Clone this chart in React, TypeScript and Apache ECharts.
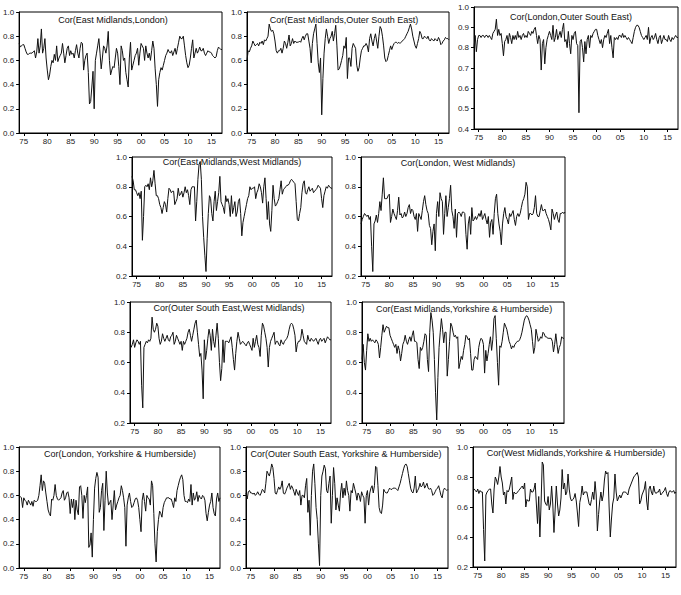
import React, { useEffect, useRef } from "react";
import * as echarts from "echarts";

// Quarterly categories 1974Q1 .. 2017Q2
const START_YEAR = 1974;
const N_QUARTERS = 174;
const quarters: string[] = Array.from({ length: N_QUARTERS }, (_, i) => `${START_YEAR + Math.floor(i / 4)}Q${(i % 4) + 1}`);
const tickYears = ["1975", "1980", "1985", "1990", "1995", "2000", "2005", "2010", "2015"];
const tickLabels = ["75", "80", "85", "90", "95", "00", "05", "10", "15"];

const titles = [
  "Cor(East Midlands,London)",
  "Cor(East Midlands,Outer South East)",
  "Cor(London,Outer South East)",
  "Cor(East Midlands,West Midlands)",
  "Cor(London, West Midlands)",
  "Cor(Outer South East,West Midlands)",
  "Cor(East Midlands,Yorkshire & Humberside)",
  "Cor(London, Yorkshire & Humberside)",
  "Cor(Outer South East, Yorkshire & Humberside)",
  "Cor(West Midlands,Yorkshire & Humberside)",
];

const corEmLon = [
  0.74,0.71,0.72,0.73, 0.73,0.70,0.67,0.65, 0.65,0.66,0.66,0.66, 0.67,0.68,0.62,0.67,
  0.78,0.66,0.72,0.86, 0.66,0.70,0.78,0.62, 0.52,0.44,0.48,0.55, 0.60,0.58,0.65,0.60,
  0.72,0.59,0.62,0.64, 0.66,0.74,0.66,0.58, 0.64,0.70,0.72,0.64, 0.68,0.65,0.66,0.62,
  0.68,0.73,0.66,0.62, 0.70,0.75,0.74,0.52, 0.60,0.64,0.66,0.50, 0.24,0.26,0.38,0.51,
  0.20,0.60,0.66,0.72, 0.78,0.66,0.53,0.62, 0.72,0.70,0.66,0.72, 0.84,0.60,0.48,0.52,
  0.55,0.54,0.62,0.70, 0.66,0.55,0.40,0.72, 0.68,0.60,0.62,0.50, 0.44,0.38,0.62,0.75,
  0.52,0.56,0.60,0.64, 0.66,0.70,0.56,0.66, 0.74,0.72,0.70,0.60, 0.72,0.66,0.62,0.66,
  0.60,0.68,0.76,0.70, 0.53,0.40,0.22,0.44, 0.50,0.54,0.52,0.56, 0.60,0.64,0.66,0.69,
  0.67,0.66,0.68,0.64, 0.67,0.70,0.65,0.70, 0.75,0.80,0.78,0.78, 0.80,0.72,0.64,0.58,
  0.54,0.56,0.62,0.70, 0.77,0.62,0.66,0.70, 0.66,0.68,0.71,0.68, 0.68,0.70,0.66,0.64,
  0.66,0.68,0.67,0.67, 0.66,0.64,0.63,0.62, 0.63,0.68,0.71,0.70, 0.69,0.69,
];

const corEmOse = [
  0.60,0.68,0.67,0.70, 0.72,0.76,0.74,0.72, 0.73,0.74,0.72,0.75, 0.74,0.76,0.73,0.77,
  0.76,0.78,0.80,0.90, 0.86,0.84,0.85,0.82, 0.76,0.68,0.66,0.68, 0.68,0.70,0.66,0.70,
  0.76,0.74,0.70,0.75, 0.81,0.72,0.74,0.78, 0.74,0.76,0.75,0.75, 0.75,0.76,0.75,0.78,
  0.80,0.77,0.80,0.82, 0.82,0.76,0.70,0.58, 0.74,0.82,0.86,0.90, 0.74,0.58,0.50,0.62,
  0.15,0.45,0.66,0.78, 0.86,0.80,0.74,0.78, 0.80,0.84,0.76,0.82, 0.89,0.72,0.52,0.53,
  0.56,0.60,0.64,0.72, 0.70,0.79,0.45,0.62, 0.62,0.55,0.70,0.74, 0.72,0.70,0.56,0.51,
  0.54,0.62,0.68,0.70, 0.72,0.72,0.74,0.72, 0.67,0.78,0.82,0.76, 0.72,0.78,0.82,0.76,
  0.70,0.80,0.88,0.86, 0.80,0.72,0.62,0.59, 0.60,0.64,0.68,0.72, 0.69,0.72,0.74,0.75,
  0.75,0.74,0.75,0.74, 0.75,0.76,0.77,0.78, 0.80,0.82,0.84,0.87, 0.90,0.86,0.80,0.76,
  0.72,0.70,0.74,0.78, 0.84,0.82,0.78,0.78, 0.80,0.79,0.78,0.80, 0.77,0.76,0.78,0.77,
  0.76,0.78,0.77,0.76, 0.79,0.77,0.73,0.74, 0.76,0.77,0.79,0.78, 0.78,0.77,
];

const corLonOse = [
  0.80,0.86,0.78,0.84, 0.86,0.86,0.85,0.86, 0.86,0.85,0.86,0.86, 0.85,0.86,0.85,0.84,
  0.87,0.88,0.89,0.94, 0.86,0.89,0.86,0.87, 0.82,0.76,0.83,0.84, 0.86,0.82,0.87,0.85,
  0.82,0.86,0.84,0.86, 0.84,0.88,0.85,0.86, 0.84,0.86,0.87,0.85, 0.86,0.85,0.88,0.87,
  0.86,0.88,0.87,0.89, 0.90,0.86,0.82,0.86, 0.84,0.69,0.82,0.84, 0.72,0.80,0.84,0.86,
  0.88,0.86,0.84,0.91, 0.83,0.85,0.89,0.84, 0.86,0.88,0.85,0.89, 0.92,0.83,0.84,0.80,
  0.88,0.82,0.77,0.86, 0.84,0.87,0.88,0.82, 0.81,0.48,0.83,0.84, 0.80,0.73,0.83,0.77,
  0.84,0.86,0.80,0.86, 0.85,0.87,0.88,0.89, 0.89,0.86,0.84,0.82, 0.84,0.80,0.84,0.86,
  0.85,0.87,0.89,0.82, 0.86,0.80,0.75,0.85, 0.84,0.85,0.84,0.86, 0.86,0.85,0.87,0.85,
  0.86,0.85,0.84,0.85, 0.84,0.83,0.82,0.85, 0.88,0.90,0.91,0.91, 0.90,0.88,0.86,0.85,
  0.84,0.85,0.86,0.84, 0.90,0.82,0.85,0.86, 0.84,0.85,0.87,0.84, 0.82,0.85,0.86,0.82,
  0.84,0.86,0.84,0.84, 0.83,0.86,0.84,0.83, 0.85,0.84,0.85,0.86, 0.85,0.85,
];

const corEmWm = [
  0.87,0.84,0.78,0.78, 0.76,0.74,0.76,0.72, 0.77,0.44,0.60,0.80, 0.81,0.80,0.82,0.78,
  0.86,0.80,0.84,0.91, 0.82,0.74,0.74,0.72, 0.68,0.66,0.62,0.66, 0.70,0.68,0.63,0.72,
  0.79,0.78,0.76,0.77, 0.77,0.68,0.70,0.72, 0.79,0.74,0.75,0.77, 0.73,0.76,0.80,0.76,
  0.78,0.74,0.68,0.78, 0.80,0.80,0.80,0.57, 0.70,0.85,0.95,0.97, 0.85,0.60,0.46,0.34,
  0.23,0.45,0.62,0.74, 0.72,0.62,0.57,0.70, 0.77,0.64,0.70,0.76, 0.87,0.70,0.68,0.66,
  0.62,0.74,0.70,0.72, 0.68,0.60,0.74,0.62, 0.66,0.70,0.60,0.63, 0.70,0.72,0.62,0.47,
  0.56,0.60,0.64,0.68, 0.72,0.74,0.80,0.78, 0.79,0.79,0.80,0.72, 0.76,0.78,0.82,0.80,
  0.76,0.69,0.80,0.86, 0.72,0.58,0.70,0.55, 0.50,0.64,0.81,0.72, 0.67,0.68,0.70,0.72,
  0.78,0.84,0.75,0.78, 0.79,0.80,0.81,0.81, 0.82,0.84,0.85,0.84, 0.83,0.82,0.70,0.58,
  0.57,0.62,0.66,0.76, 0.82,0.84,0.76,0.75, 0.78,0.80,0.77,0.78, 0.79,0.76,0.77,0.78,
  0.79,0.81,0.80,0.79, 0.72,0.66,0.74,0.77, 0.80,0.79,0.81,0.80, 0.79,0.79,
];

const corLonWm = [
  0.55,0.58,0.60,0.62, 0.61,0.60,0.61,0.58, 0.60,0.40,0.23,0.55, 0.57,0.61,0.56,0.62,
  0.70,0.64,0.75,0.86, 0.72,0.72,0.72,0.74, 0.75,0.56,0.60,0.65, 0.62,0.60,0.58,0.64,
  0.73,0.61,0.62,0.59, 0.60,0.63,0.60,0.62, 0.66,0.68,0.62,0.65, 0.64,0.60,0.58,0.62,
  0.50,0.62,0.60,0.58, 0.64,0.70,0.74,0.68, 0.64,0.62,0.54,0.52, 0.41,0.50,0.55,0.37,
  0.62,0.70,0.60,0.76, 0.72,0.70,0.48,0.62, 0.74,0.60,0.66,0.72, 0.81,0.64,0.60,0.52,
  0.65,0.46,0.62,0.63, 0.62,0.60,0.63,0.63, 0.62,0.48,0.38,0.55, 0.60,0.48,0.66,0.57,
  0.58,0.60,0.58,0.60, 0.62,0.60,0.64,0.58, 0.60,0.62,0.58,0.55, 0.60,0.46,0.56,0.58,
  0.48,0.62,0.72,0.75, 0.62,0.55,0.50,0.41, 0.55,0.62,0.66,0.60, 0.58,0.55,0.62,0.60,
  0.62,0.64,0.58,0.54, 0.60,0.62,0.60,0.62, 0.66,0.70,0.72,0.75, 0.83,0.80,0.58,0.62,
  0.62,0.61,0.62,0.66, 0.74,0.62,0.60,0.60, 0.64,0.68,0.64,0.64, 0.65,0.62,0.60,0.58,
  0.55,0.51,0.65,0.62, 0.58,0.61,0.63,0.58, 0.56,0.62,0.62,0.63, 0.62,0.63,
];

const corOseWm = [
  0.70,0.70,0.72,0.75, 0.70,0.73,0.75,0.74, 0.72,0.74,0.45,0.30, 0.70,0.72,0.74,0.73,
  0.75,0.74,0.76,0.90, 0.82,0.80,0.82,0.86, 0.84,0.76,0.72,0.74, 0.79,0.76,0.74,0.76,
  0.78,0.75,0.74,0.77, 0.78,0.80,0.72,0.74, 0.78,0.76,0.74,0.72, 0.74,0.68,0.74,0.72,
  0.74,0.76,0.80,0.82, 0.78,0.74,0.78,0.82, 0.86,0.88,0.80,0.72, 0.64,0.66,0.55,0.36,
  0.75,0.62,0.68,0.76, 0.82,0.78,0.68,0.82, 0.74,0.70,0.78,0.86, 0.76,0.60,0.48,0.56,
  0.75,0.60,0.74,0.74, 0.74,0.73,0.75,0.77, 0.70,0.62,0.55,0.66, 0.74,0.80,0.76,0.72,
  0.73,0.74,0.73,0.72, 0.71,0.73,0.74,0.72, 0.70,0.68,0.76,0.70, 0.74,0.78,0.72,0.70,
  0.64,0.78,0.86,0.84, 0.80,0.76,0.70,0.57, 0.70,0.74,0.76,0.78, 0.80,0.72,0.74,0.74,
  0.72,0.71,0.75,0.73, 0.72,0.74,0.75,0.76, 0.78,0.82,0.85,0.86, 0.85,0.82,0.78,0.67,
  0.72,0.74,0.74,0.76, 0.82,0.78,0.74,0.73, 0.72,0.78,0.75,0.74, 0.76,0.75,0.74,0.75,
  0.76,0.74,0.72,0.75, 0.76,0.74,0.75,0.76, 0.73,0.75,0.77,0.76, 0.75,0.75,
];

const corEmYh = [
  0.62,0.72,0.60,0.55, 0.68,0.79,0.74,0.76, 0.74,0.75,0.74,0.73, 0.75,0.74,0.72,0.63,
  0.70,0.78,0.85,0.80, 0.82,0.84,0.83,0.83, 0.78,0.76,0.74,0.72, 0.70,0.72,0.66,0.71,
  0.68,0.61,0.66,0.72, 0.74,0.78,0.74,0.72, 0.75,0.77,0.74,0.78, 0.81,0.74,0.74,0.73,
  0.62,0.56,0.70,0.68, 0.70,0.74,0.79,0.78, 0.62,0.54,0.80,0.93, 0.88,0.80,0.62,0.40,
  0.22,0.50,0.70,0.80, 0.89,0.82,0.73,0.80, 0.80,0.51,0.62,0.74, 0.86,0.84,0.80,0.77,
  0.78,0.76,0.77,0.56, 0.60,0.64,0.62,0.68, 0.72,0.78,0.77,0.75, 0.76,0.66,0.55,0.55,
  0.62,0.64,0.63,0.62, 0.70,0.74,0.76,0.75, 0.72,0.53,0.68,0.61, 0.66,0.72,0.77,0.68,
  0.75,0.89,0.91,0.76, 0.60,0.45,0.71,0.70, 0.74,0.80,0.86,0.84, 0.82,0.78,0.74,0.72,
  0.69,0.71,0.70,0.72, 0.73,0.74,0.74,0.75, 0.77,0.80,0.84,0.88, 0.90,0.91,0.90,0.88,
  0.85,0.82,0.74,0.66, 0.70,0.82,0.78,0.74, 0.75,0.77,0.76,0.80, 0.79,0.77,0.77,0.76,
  0.76,0.76,0.76,0.74, 0.67,0.72,0.79,0.72, 0.66,0.70,0.72,0.77, 0.76,0.76,
];

const corLonYh = [
  0.60,0.59,0.58,0.50, 0.58,0.56,0.55,0.52, 0.56,0.54,0.52,0.55, 0.51,0.56,0.55,0.55,
  0.56,0.60,0.68,0.77, 0.64,0.72,0.70,0.62, 0.55,0.48,0.45,0.43, 0.57,0.56,0.60,0.69,
  0.60,0.57,0.56,0.57, 0.58,0.62,0.64,0.56, 0.58,0.62,0.63,0.58, 0.45,0.57,0.50,0.57,
  0.40,0.56,0.48,0.44, 0.67,0.68,0.60,0.41, 0.60,0.54,0.60,0.67, 0.17,0.19,0.29,0.09,
  0.40,0.66,0.74,0.79, 0.75,0.46,0.50,0.64, 0.70,0.31,0.56,0.80, 0.62,0.52,0.54,0.56,
  0.40,0.52,0.64,0.48, 0.52,0.55,0.58,0.60, 0.68,0.64,0.58,0.50, 0.18,0.52,0.58,0.62,
  0.55,0.50,0.51,0.54, 0.57,0.58,0.56,0.50, 0.40,0.30,0.56,0.62, 0.55,0.47,0.60,0.58,
  0.57,0.52,0.72,0.68, 0.45,0.20,0.05,0.30, 0.40,0.47,0.45,0.42, 0.50,0.54,0.56,0.58,
  0.58,0.58,0.57,0.57, 0.54,0.50,0.58,0.55, 0.64,0.68,0.72,0.75, 0.77,0.73,0.60,0.55,
  0.55,0.54,0.57,0.55, 0.69,0.52,0.62,0.56, 0.58,0.63,0.55,0.60, 0.58,0.57,0.60,0.59,
  0.56,0.45,0.39,0.46, 0.52,0.55,0.62,0.50, 0.45,0.43,0.57,0.62, 0.55,0.58,
];

const corOseYh = [
  0.62,0.57,0.63,0.64, 0.62,0.62,0.61,0.62, 0.60,0.61,0.63,0.61, 0.60,0.62,0.65,0.64,
  0.62,0.70,0.80,0.78, 0.76,0.80,0.86,0.83, 0.74,0.62,0.61,0.64, 0.67,0.65,0.67,0.72,
  0.62,0.61,0.63,0.66, 0.68,0.70,0.65,0.68, 0.66,0.63,0.60,0.65, 0.62,0.60,0.64,0.52,
  0.60,0.60,0.58,0.68, 0.74,0.46,0.56,0.27, 0.60,0.80,0.86,0.70, 0.50,0.40,0.20,0.02,
  0.60,0.76,0.80,0.85, 0.82,0.64,0.62,0.70, 0.76,0.37,0.60,0.83, 0.70,0.48,0.58,0.52,
  0.47,0.62,0.70,0.58, 0.66,0.60,0.72,0.64, 0.60,0.47,0.64,0.62, 0.70,0.66,0.62,0.56,
  0.62,0.60,0.55,0.63, 0.60,0.58,0.37,0.60, 0.64,0.52,0.62,0.66, 0.68,0.62,0.68,0.84,
  0.83,0.68,0.50,0.46, 0.45,0.52,0.65,0.63, 0.62,0.62,0.64,0.66, 0.65,0.65,0.66,0.66,
  0.66,0.65,0.64,0.67, 0.70,0.74,0.78,0.82, 0.85,0.86,0.84,0.78, 0.72,0.66,0.63,0.62,
  0.66,0.76,0.62,0.64, 0.66,0.70,0.67,0.68, 0.71,0.66,0.68,0.70, 0.66,0.65,0.66,0.64,
  0.60,0.61,0.63,0.65, 0.66,0.68,0.64,0.60, 0.58,0.64,0.66,0.65, 0.64,0.65,
];

const corWmYh = [
  0.72,0.72,0.71,0.70, 0.72,0.69,0.71,0.70, 0.70,0.45,0.24,0.68, 0.70,0.71,0.72,0.72,
  0.62,0.56,0.72,0.80, 0.78,0.75,0.80,0.87, 0.80,0.76,0.68,0.70, 0.62,0.71,0.70,0.72,
  0.76,0.80,0.65,0.70, 0.69,0.69,0.70,0.71, 0.72,0.73,0.74,0.72, 0.76,0.60,0.65,0.64,
  0.64,0.72,0.70,0.70, 0.72,0.76,0.62,0.49, 0.67,0.40,0.62,0.90, 0.88,0.64,0.62,0.61,
  0.67,0.58,0.62,0.74, 0.62,0.43,0.58,0.74, 0.62,0.54,0.58,0.66, 0.85,0.72,0.76,0.68,
  0.70,0.82,0.72,0.66, 0.64,0.65,0.66,0.69, 0.64,0.56,0.47,0.63, 0.67,0.74,0.68,0.70,
  0.70,0.70,0.66,0.62, 0.61,0.65,0.70,0.65, 0.77,0.68,0.44,0.55, 0.64,0.70,0.64,0.68,
  0.78,0.84,0.82,0.83, 0.60,0.40,0.52,0.62, 0.66,0.82,0.70,0.64, 0.66,0.68,0.66,0.68,
  0.70,0.70,0.70,0.69, 0.68,0.72,0.74,0.76, 0.78,0.80,0.81,0.82, 0.83,0.80,0.62,0.64,
  0.68,0.70,0.72,0.77, 0.64,0.58,0.72,0.74, 0.70,0.68,0.74,0.70, 0.69,0.70,0.70,0.72,
  0.68,0.69,0.70,0.71, 0.73,0.69,0.67,0.70, 0.71,0.70,0.70,0.71, 0.69,0.70,
];

const seriesData = [corEmLon, corEmOse, corLonOse, corEmWm, corLonWm, corOseWm, corEmYh, corLonYh, corOseYh, corWmYh];

// y-axis ranges per panel: [min, max, interval]
const yRanges = [
  [0, 1, 0.2], [0, 1, 0.2], [0.4, 1, 0.1],
  [0.2, 1, 0.2], [0.2, 1, 0.2],
  [0.2, 1, 0.2], [0.2, 1, 0.2],
  [0, 1, 0.2], [0, 1, 0.2], [0.2, 1, 0.2],
];

// Layout (pixels): left, top, width, height, title center x, title center y
const layout = [
  { l: 19, t: 12, w: 203, h: 121, tx: 113, ty: 20 },
  { l: 247, t: 12, w: 202, h: 121, tx: 344, ty: 20 },
  { l: 474, t: 7, w: 204, h: 122, tx: 571, ty: 17 },
  { l: 132, t: 157, w: 200, h: 119, tx: 232, ty: 162 },
  { l: 361, t: 157, w: 204, h: 119, tx: 458, ty: 163 },
  { l: 130, t: 302, w: 201, h: 121, tx: 229, ty: 308 },
  { l: 362, t: 302, w: 202, h: 121, tx: 464, ty: 309 },
  { l: 19, t: 447, w: 201, h: 121, tx: 120, ty: 454 },
  { l: 246, t: 447, w: 202, h: 121, tx: 346, ty: 454 },
  { l: 473, t: 447, w: 203, h: 120, tx: 576, ty: 453 },
];

const FONT = "'Liberation Sans', Arial, Helvetica, sans-serif";

const isTick = (index: number) => index >= 4 && (index - 4) % 20 === 0;

export default function App() {
  const ref = useRef<HTMLDivElement>(null);
  useEffect(() => {
    if (!ref.current) return;
    const chart = echarts.init(ref.current, undefined, { renderer: "svg" });
    const option: any = {
      animation: false,
      backgroundColor: "#ffffff",
      grid: layout.map((p) => ({
        left: p.l, top: p.t, width: p.w, height: p.h,
        show: true, borderColor: "#000", borderWidth: 1, backgroundColor: "transparent",
      })),
      xAxis: layout.map((_, k) => ({
        gridIndex: k,
        type: "category",
        data: quarters,
        boundaryGap: false,
        axisLine: { show: true, lineStyle: { color: "#000", width: 1 } },
        axisTick: { show: true, length: 3, interval: (i: number) => isTick(i), lineStyle: { color: "#000" } },
        axisLabel: {
          interval: (i: number) => isTick(i),
          formatter: (v: string) => {
            const idx = tickYears.indexOf(v.slice(0, 4));
            return idx >= 0 ? tickLabels[idx] : "";
          },
          fontSize: 8, color: "#222", margin: 4, fontFamily: FONT,
        },
        splitLine: { show: false },
      })),
      yAxis: layout.map((_, k) => ({
        gridIndex: k,
        type: "value",
        min: yRanges[k][0], max: yRanges[k][1], interval: yRanges[k][2],
        axisLine: { show: true, lineStyle: { color: "#000", width: 1 } },
        axisTick: { show: true, length: 3, lineStyle: { color: "#000" } },
        axisLabel: { formatter: (v: number) => v.toFixed(1), fontSize: 8, color: "#222", margin: 5, fontFamily: FONT },
        splitLine: { show: false },
      })),
      series: seriesData.map((d, k) => ({
        type: "line",
        xAxisIndex: k, yAxisIndex: k,
        data: d,
        symbol: "none", showSymbol: false, silent: true,
        lineStyle: { color: "#111", width: 1 },
      })),
      graphic: {
        elements: layout.map((p, k) => ({
          type: "text", x: p.tx, y: p.ty, silent: true,
          style: {
            text: titles[k], fontSize: 9, fontFamily: FONT, fill: "#111",
            textAlign: "center", textVerticalAlign: "middle",
          },
        })),
      },
    };
    chart.setOption(option);
    return () => chart.dispose();
  }, []);
  return (
    <div
      ref={ref}
      style={{ position: "absolute", left: 0, top: 0, width: 681, height: 595, background: "#fff" }}
    />
  );
}
